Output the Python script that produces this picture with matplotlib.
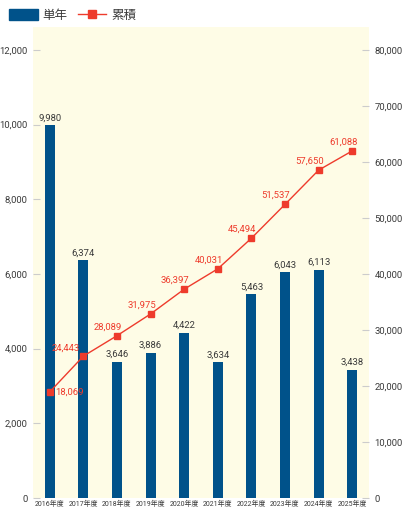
import matplotlib.pyplot as plt
import matplotlib.ticker as ticker
from matplotlib.transforms import offset_copy
from matplotlib.lines import Line2D
from matplotlib.patches import Patch
import numpy as np

plt.rcParams['font.family'] = ['Roboto', 'Noto Sans CJK JP']

# data
YEARS = ['2016年度', '2017年度', '2018年度', '2019年度', '2020年度',
         '2021年度', '2022年度', '2023年度', '2024年度', '2025年度']
SINGLE = [9980, 6374, 3646, 3886, 4422, 3634, 5463, 6043, 6113, 3438]
CUMULATIVE = [18069, 24443, 28089, 31975, 36397, 40031, 45494, 51537, 57650, 61088]

BAR_COLOR = '#00528a'
LINE_COLOR = '#ee3b2c'
BG_COLOR = '#fefce6'
TEXT_COLOR = '#3a3a3a'
TICK_COLOR = '#cccccc'

fig = plt.figure(figsize=(4.05, 5.12), dpi=100)
ax = fig.add_axes([33 / 405, 14 / 512, 336 / 405, 471 / 512])
ax2 = ax.twinx()
ax.set_facecolor(BG_COLOR)

x = np.arange(len(YEARS))
ax.bar(x, SINGLE, width=0.3, color=BAR_COLOR, zorder=2)
for xi, v in zip(x, SINGLE):
    ax.annotate(f'{v:,}', (xi, v), xytext=(0, 2), textcoords='offset points',
                ha='center', va='bottom', fontsize=6.8, color=TEXT_COLOR)

# line is drawn a few px above its nominal value in the reference
shift = offset_copy(ax2.transData, fig=fig, x=0, y=5, units='dots')
ax2.plot(x, CUMULATIVE, color=LINE_COLOR, lw=1, marker='s', ms=5,
         transform=shift, zorder=3)

for i, (xi, v) in enumerate(zip(x, CUMULATIVE)):
    if i == 0:
        dx, dy, ha = 5, 0, 'left'
    elif i == 1:
        dx, dy, ha = -4, 8, 'right'
    else:
        dx, dy, ha = -9, 9, 'center'
    ax2.annotate(f'{v:,}', (xi, v), xycoords=shift, xytext=(dx * 0.72, dy * 0.72),
                 textcoords='offset points', ha=ha, va='center',
                 fontsize=6.8, color=LINE_COLOR)

ax.set_xlim(-0.5, len(YEARS) - 0.5)
ax.set_ylim(0, 12616)
ax2.set_ylim(0, 84107)
ax.set_yticks(np.arange(0, 12001, 2000))
ax2.set_yticks(np.arange(0, 80001, 10000))
ax.yaxis.set_major_formatter(ticker.StrMethodFormatter('{x:,.0f}'))
ax2.yaxis.set_major_formatter(ticker.StrMethodFormatter('{x:,.0f}'))

ax.set_xticks(x)
ax.set_xticklabels(YEARS, fontsize=5)
ax.tick_params(axis='x', length=0, pad=2, colors=TEXT_COLOR)
ax.tick_params(axis='y', direction='in', length=5, color=TICK_COLOR,
               labelcolor=TEXT_COLOR, labelsize=6.8, pad=4)
ax2.tick_params(axis='y', direction='in', length=5, color=TICK_COLOR,
                labelcolor=TEXT_COLOR, labelsize=6.8, pad=4)

for a in (ax, ax2):
    for s in a.spines.values():
        s.set_visible(False)

handles = [Patch(color=BAR_COLOR),
           Line2D([], [], color=LINE_COLOR, lw=1, marker='s', ms=6)]
fig.legend(handles, ['単年', '累積'], loc='upper left', bbox_to_anchor=(0.0, 1.0),
           ncol=2, frameon=False, fontsize=9, handlelength=2.3,
           handleheight=0.9, columnspacing=0.8, handletextpad=0.4,
           borderaxespad=0.3, labelcolor=TEXT_COLOR)

fig.savefig('out.png', dpi=100)
